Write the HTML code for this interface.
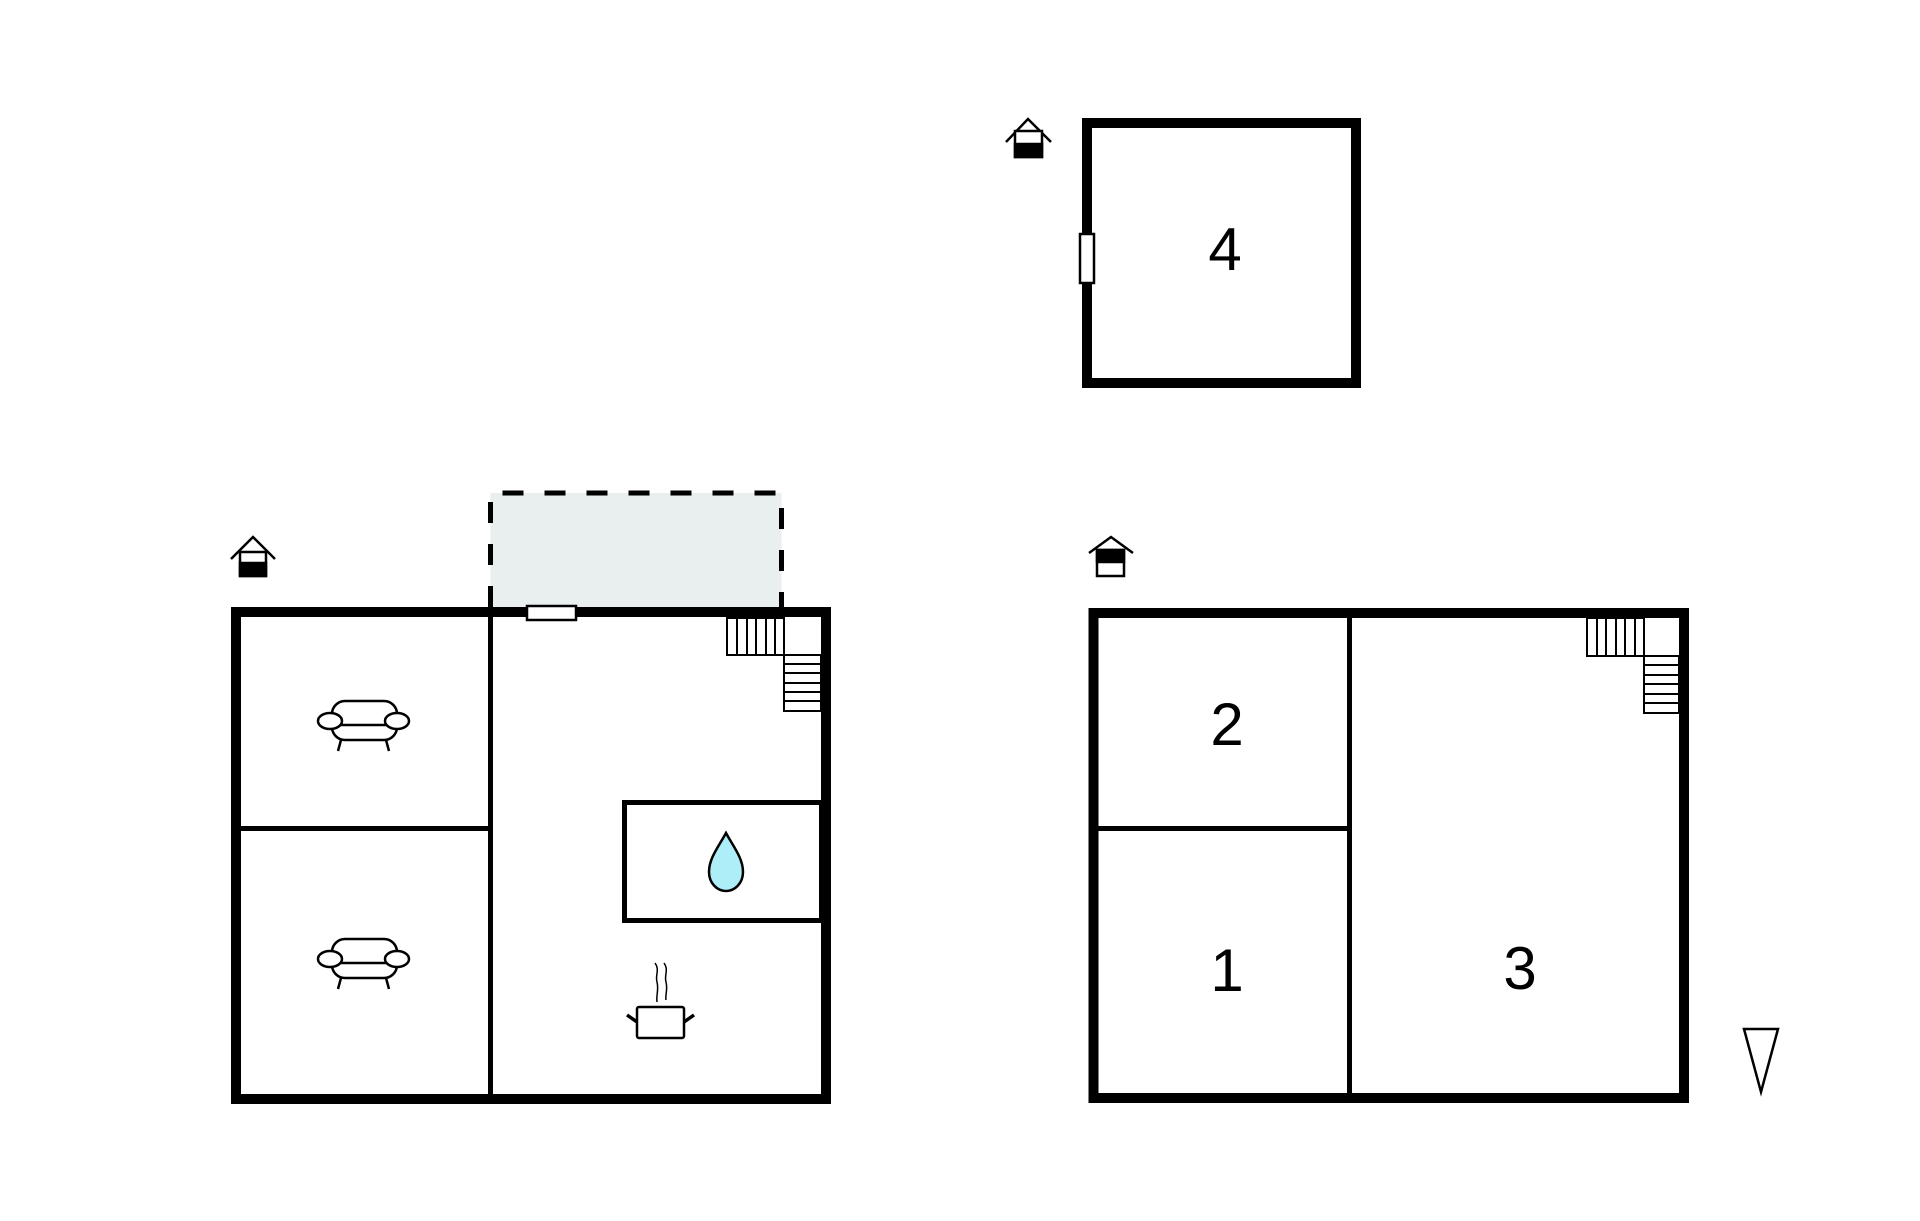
<!DOCTYPE html>
<html><head><meta charset="utf-8"><style>html,body{margin:0;padding:0;background:#fff}svg{display:block}</style></head>
<body>
<svg width="1920" height="1221" viewBox="0 0 1920 1221" xmlns="http://www.w3.org/2000/svg">
<defs>
<g id="sofa" fill="#fff" stroke="#000" stroke-width="2.5">
  <rect x="332" y="701" width="65" height="39" rx="13"/>
  <line x1="341" y1="725" x2="389" y2="725"/>
  <ellipse cx="330" cy="721" rx="12" ry="8"/>
  <ellipse cx="397" cy="721" rx="12" ry="8"/>
  <line x1="341" y1="740" x2="338" y2="751"/>
  <line x1="386" y1="740" x2="389" y2="751"/>
</g>
</defs>
<!-- top box 4 -->
<rect x="1087" y="123" width="269" height="260" fill="none" stroke="#000" stroke-width="10"/>
<rect x="1080" y="234" width="14" height="49" fill="#fff" stroke="#000" stroke-width="2.5"/>
<text x="1225" y="270" font-family="Liberation Sans, sans-serif" font-size="60" text-anchor="middle">4</text>
<!-- house icons -->
<g stroke="#000" stroke-width="2.5" fill="none">
  <polyline points="1006,142 1028,119 1051,142"/>
  <rect x="1015" y="131" width="27" height="26" fill="#fff"/>
  <rect x="1015" y="144" width="27" height="13" fill="#000"/>
  <polyline points="231,559 253,537 275,559"/>
  <rect x="240" y="552" width="26" height="24" fill="#fff"/>
  <rect x="240" y="563" width="26" height="13" fill="#000"/>
  <polyline points="1089,553 1111,537 1133,553"/>
  <rect x="1097" y="550" width="27" height="26" fill="#fff"/>
  <rect x="1097" y="550" width="27" height="12" fill="#000"/>
</g>
<!-- dashed terrace -->
<rect x="490.5" y="493" width="291" height="114" fill="#e9eeee"/>
<path d="M490.5,607 V493 H781.5 V607" fill="none" stroke="#000" stroke-width="5" stroke-dasharray="21 21"/>
<!-- left plan -->
<rect x="236" y="612" width="590" height="487" fill="none" stroke="#000" stroke-width="10"/>
<line x1="490.5" y1="612" x2="490.5" y2="1099" stroke="#000" stroke-width="5"/>
<line x1="241" y1="828.5" x2="490" y2="828.5" stroke="#000" stroke-width="5"/>
<rect x="527" y="606" width="49" height="14" fill="#fff" stroke="#000" stroke-width="2.5"/>
<rect x="624.5" y="802.5" width="197" height="118" fill="none" stroke="#000" stroke-width="5"/>
<path d="M726,833 C733,846 743,858 743,872 C743,883 735,891 726,891 C717,891 709,883 709,872 C709,858 719,846 726,833 Z" fill="#aeeef8" stroke="#000" stroke-width="2.5"/>
<g stroke="#000" fill="none">
  <rect x="637" y="1007" width="47" height="31" rx="2" fill="#fff" stroke-width="2.5"/>
  <line x1="627" y1="1015" x2="637" y2="1022" stroke-width="3.5"/>
  <line x1="684" y1="1022" x2="694" y2="1015" stroke-width="3.5"/>
  <path d="M655,963 C660,970 655,975 657,982 C659,990 656,995 657,1002" stroke-width="1.5"/>
  <path d="M664,963 C669,970 664,975 666,982 C668,990 665,995 666,1000" stroke-width="1.5"/>
</g>
<use href="#sofa"/>
<use href="#sofa" transform="translate(0,238)"/>
<!-- stairs left -->
<g fill="#fff" stroke="#000" stroke-width="2">
  <rect x="727" y="618" width="57" height="37"/>
  <rect x="784" y="655" width="37" height="56"/>
  <path d="M737,618V655M747,618V655M756,618V655M766,618V655M775,618V655M784,618V655" fill="none"/>
  <path d="M784,664H821M784,673H821M784,683H821M784,692H821M784,701H821" fill="none"/>
</g>
<!-- right plan -->
<rect x="1093.5" y="613" width="590.5" height="485" fill="none" stroke="#000" stroke-width="10"/>
<line x1="1349.5" y1="613" x2="1349.5" y2="1098" stroke="#000" stroke-width="5"/>
<line x1="1098" y1="828.5" x2="1349" y2="828.5" stroke="#000" stroke-width="5"/>
<g fill="#fff" stroke="#000" stroke-width="2">
  <rect x="1587" y="618" width="57" height="38"/>
  <rect x="1644" y="656" width="35" height="57"/>
  <path d="M1597,618V656M1606,618V656M1616,618V656M1625,618V656M1635,618V656M1644,618V656" fill="none"/>
  <path d="M1644,665H1679M1644,675H1679M1644,684H1679M1644,694H1679M1644,703H1679" fill="none"/>
</g>
<g font-family="Liberation Sans, sans-serif" font-size="60" text-anchor="middle">
  <text x="1227" y="745">2</text>
  <text x="1227" y="991">1</text>
  <text x="1520" y="989">3</text>
</g>
<polygon points="1744,1029 1778,1029 1761,1092" fill="#fff" stroke="#000" stroke-width="2.5"/>
</svg>
</body></html>
